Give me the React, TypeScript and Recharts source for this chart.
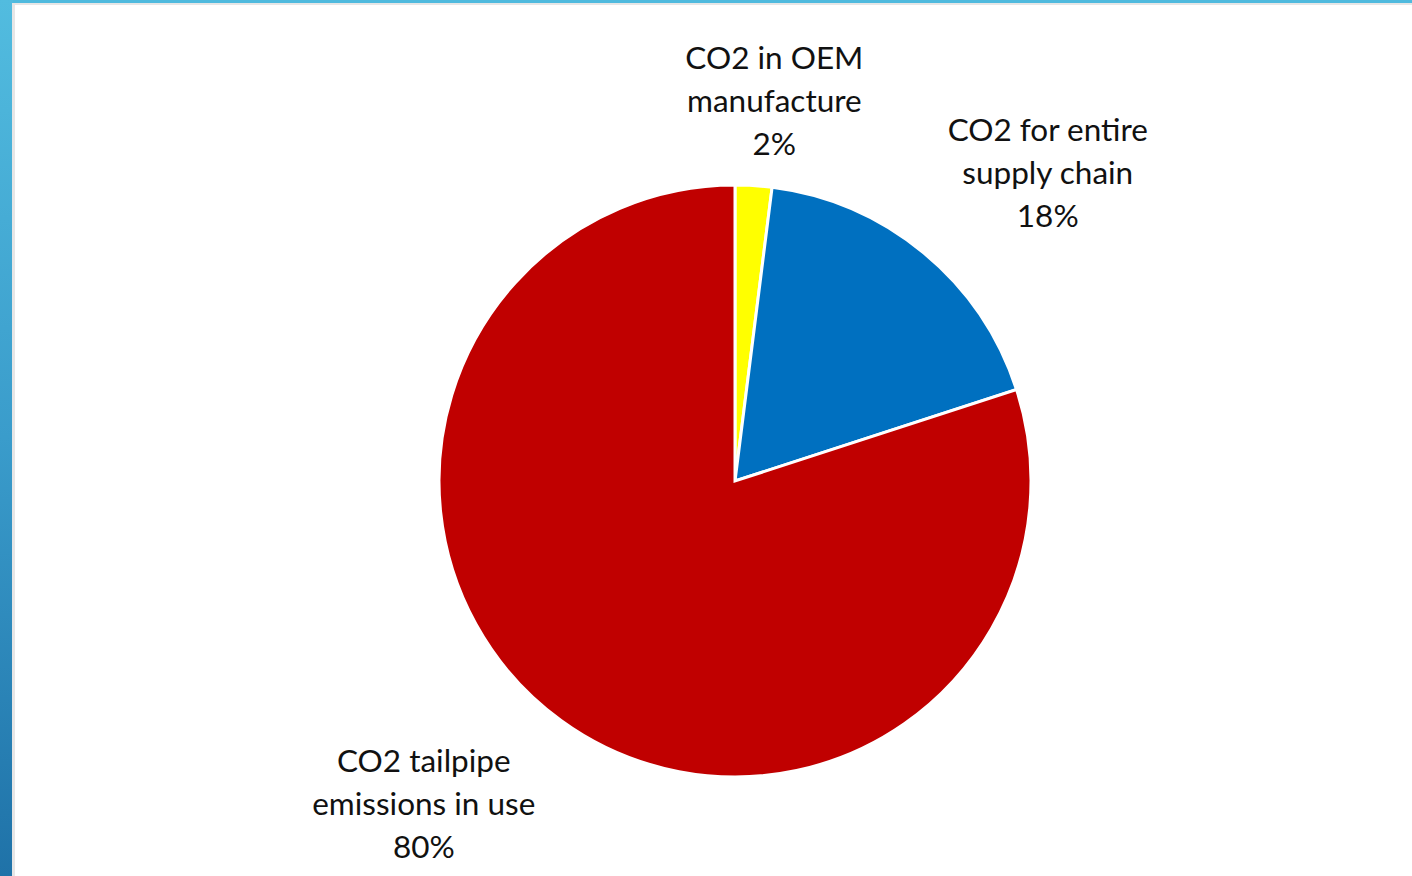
import { PieChart, Pie, Cell } from "recharts"

// Share of lifecycle CO2 by source
const categories = ["CO2 in OEM manufacture", "CO2 for entire supply chain", "CO2 tailpipe emissions in use"]
const shares = [2, 18, 80]
const labelLines = [
  ["CO2 in OEM", "manufacture"],
  ["CO2 for entire", "supply chain"],
  ["CO2 tailpipe", "emissions in use"],
]
const sliceColors = ["#FFFF00", "#0070C0", "#C00000"]

const data = categories.map((name, i) => ({ name, value: shares[i], lines: labelLines[i] }))

// label placement around the pie: distance from centre and angle nudge (deg)
const LABEL_PLACE = [
  { r: 383, dAngle: -2.3 },
  { r: 440, dAngle: -5.7 },
  { r: 448, dAngle: -8 },
]

const RADIAN = Math.PI / 180
const LINE_H = 43

const renderLabel = (props: any) => {
  const { cx, cy, midAngle, index, payload } = props
  const place = LABEL_PLACE[index]
  const a = (midAngle + place.dAngle) * RADIAN
  const x = cx + place.r * Math.cos(a)
  const y = cy - place.r * Math.sin(a)
  const lines: string[] = [...payload.lines, `${payload.value}%`]
  const top = y - ((lines.length - 1) * LINE_H) / 2
  return (
    <text
      x={x}
      y={top}
      textAnchor="middle"
      dominantBaseline="central"
      fill="#111"
      fontSize={31.5}
      fontFamily="Lato, 'Open Sans', sans-serif"
    >
      {lines.map((l, i) => (
        <tspan key={i} x={x} y={top + i * LINE_H}>
          {l}
        </tspan>
      ))}
    </text>
  )
}

export default function App() {
  return (
    <div
      style={{
        position: "absolute",
        left: 0,
        top: 0,
        width: 1412,
        height: 876,
        background: "#4fbade",
        overflow: "hidden",
      }}
    >
      {/* left accent strip */}
      <div
        style={{
          position: "absolute",
          left: 0,
          top: 0,
          width: 13,
          height: 876,
          background: "linear-gradient(#52bcdf, #3a9ccb 50%, #1f72a8)",
        }}
      />
      {/* white slide panel */}
      <div
        style={{
          position: "absolute",
          left: 12,
          top: 3,
          width: 1400,
          height: 873,
          background: "#fff",
          borderLeft: "3px solid #e6e6e6",
          borderTop: "2px solid #e6e6e6",
          boxSizing: "border-box",
        }}
      >
        <PieChart width={1397} height={871}>
          <Pie
            data={data}
            dataKey="value"
            cx={715}
            cy={471}
            outerRadius={296}
            startAngle={90}
            endAngle={-270}
            stroke="#fff"
            strokeWidth={3}
            label={renderLabel}
            labelLine={false}
            isAnimationActive={false}
          >
            {data.map((d, i) => (
              <Cell key={d.name} fill={sliceColors[i]} />
            ))}
          </Pie>
        </PieChart>
      </div>
    </div>
  )
}
